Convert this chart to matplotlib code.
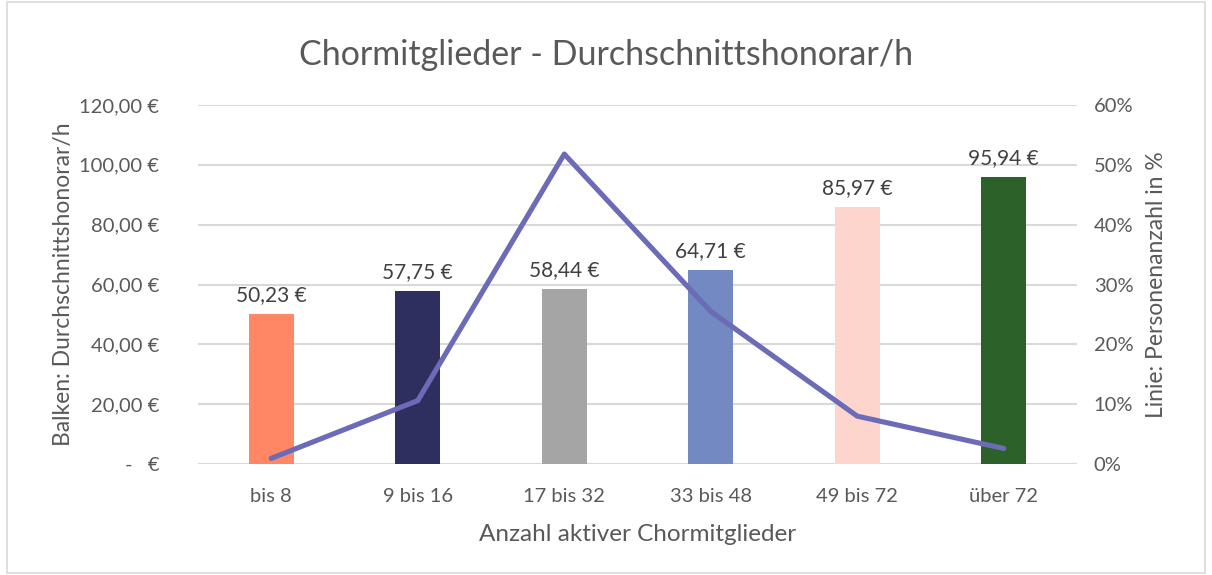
import matplotlib.pyplot as plt
from matplotlib.patches import Rectangle

plt.rcParams["font.family"] = ["Lato", "DejaVu Sans"]

categories = ["bis 8", "9 bis 16", "17 bis 32", "33 bis 48", "49 bis 72", "über 72"]
honorar = [50.23, 57.75, 58.44, 64.71, 85.97, 95.94]
personen_pct = [0.95, 10.6, 51.8, 25.5, 8.0, 2.6]
bar_colors = ["#FF8766", "#2E2F5E", "#A5A5A5", "#7389C1", "#FDD5CC", "#2C6129"]
euro_ticks = [0, 20, 40, 60, 80, 100, 120]
pct_ticks = [0, 10, 20, 30, 40, 50, 60]

TEXT = "#595959"
LABEL = "#404040"
GRID = "#D9D9D9"
LINE = "#6B6BB7"


def euro(v):
    if v == 0:
        return "-   €"
    return f"{v:.2f}".replace(".", ",") + " €"


fig = plt.figure(figsize=(12.12, 5.75), dpi=100)
fig.patches.append(Rectangle((0.006, 0.004), 0.988, 0.992, transform=fig.transFigure,
                             fill=False, edgecolor="#D9D9D9", linewidth=1.2))
ax = fig.add_axes([0.1634, 0.193, 0.7252, 0.6244])
x = list(range(len(categories)))

ax.bar(x, honorar, width=0.31, color=bar_colors, zorder=2)
for xi, v in zip(x, honorar):
    ax.text(xi, v + 3, euro(v), ha="center", va="bottom", fontsize=15, color=LABEL)

ax.set_ylim(0, 120)
ax.set_xlim(-0.5, len(categories) - 0.5)
ax.set_yticks(euro_ticks)
ax.set_yticklabels([euro(t) for t in euro_ticks])
ax.set_xticks(x)
ax.set_xticklabels(categories)
ax.tick_params(axis="both", length=0, labelsize=14.5, labelcolor=TEXT)
ax.tick_params(axis="y", pad=28)
ax.tick_params(axis="x", pad=17)
ax.grid(axis="y", color=GRID, linewidth=1.5, zorder=0)
for s in ax.spines.values():
    s.set_visible(False)
ax.set_ylabel("Balken: Durchschnittshonorar/h", fontsize=16.5, color=TEXT, labelpad=4)
ax.set_xlabel("Anzahl aktiver Chormitglieder", fontsize=17.5, color=TEXT, labelpad=14)

ax2 = ax.twinx()
ax2.plot(x, personen_pct, color=LINE, linewidth=3.7, solid_capstyle="round", zorder=3)
ax2.set_ylim(0, 60)
ax2.set_yticks(pct_ticks)
ax2.set_yticklabels([f"{t}%" for t in pct_ticks])
ax2.tick_params(axis="y", length=0, labelsize=14.5, labelcolor=TEXT, pad=12)
for s in ax2.spines.values():
    s.set_visible(False)
ax2.set_ylabel("Linie: Personenanzahl in %", fontsize=16.5, color=TEXT, labelpad=9)

fig.suptitle("Chormitglieder - Durchschnittshonorar/h", fontsize=24.5, color=TEXT, y=0.933)

fig.savefig("out.png", dpi=100)
